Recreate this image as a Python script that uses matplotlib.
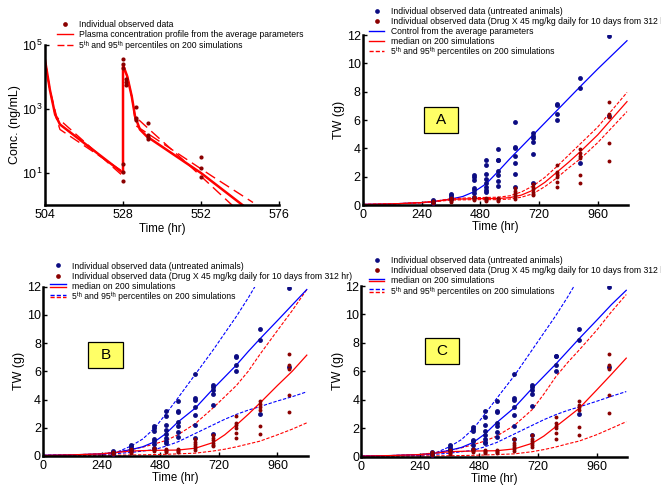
import numpy as np
import matplotlib
matplotlib.use('Agg')
import matplotlib.pyplot as plt
from matplotlib.lines import Line2D
from matplotlib.patches import Rectangle
from matplotlib.ticker import NullLocator
from matplotlib.legend_handler import HandlerBase

plt.rcParams['font.family'] = ['Liberation Sans', 'DejaVu Sans']
plt.rcParams['mathtext.default'] = 'regular'

# ---- PK panel (top left) ----
pk_avg_t = [504, 505.5, 507.1, 508.6, 528, 528, 529.3, 530.7, 531.7, 533.2, 535.3, 552, 566]
pk_avg_c = [34000, 4000, 680, 330, 10, 24000, 10500, 2450, 590, 230, 140, 10, 0.8]
pk_steep_t = [504, 505.5, 507.6, 528, 528, 529.3, 530.7, 531.7, 536.3, 548.6, 562]
pk_steep_c = [34000, 4000, 560, 8, 24000, 10500, 2450, 590, 220, 16.6, 0.9]
pk_flat_t = [504, 505.5, 507.1, 508.6, 528, 528, 529.3, 530.7, 532, 555.3, 568]
pk_flat_c = [34000, 4000, 680, 230, 11, 24000, 10500, 2450, 300, 8.1, 1.2]
pk_obs_t = [528, 528, 528, 528, 528, 528, 528.9, 528.9, 528.9, 531.9, 531.9, 531.9,
            535.8, 535.8, 535.8, 535.8, 552, 552, 552]
pk_obs_c = [37000, 26000, 19000, 18.6, 10.5, 5.6, 8500, 6800, 5500, 1120, 525, 470,
            355, 160, 135, 118, 31, 14, 7.3]

# ---- tumour weight data ----
tw_days = [288, 360, 456, 504, 552, 624, 696, 792, 888, 1008]
tw_ctrl = [[0.35, 0.28, 0.2, 0.15],
           [0.8, 0.68, 0.55, 0.45],
           [2.12, 1.97, 1.8, 1.2, 1.07, 0.82, 0.55],
           [3.2, 2.8, 2.2, 1.82, 1.55, 1.27, 1.05, 0.95],
           [3.93, 3.2, 3.15, 2.4, 2.15, 1.72, 1.36],
           [5.84, 4.1, 4.0, 3.48, 2.94, 2.17, 1.25],
           [5.06, 4.87, 4.7, 4.42, 3.6, 1.53],
           [7.1, 7.05, 6.45, 6.0],
           [9.0, 8.23, 2.97],
           [11.9, 6.3]]
tw_drug = [[0.3, 0.24, 0.18, 0.12],
           [0.5, 0.42, 0.35, 0.28, 0.22],
           [0.55, 0.47, 0.4, 0.33],
           [0.5, 0.42, 0.35, 0.27],
           [0.5, 0.42, 0.35, 0.27],
           [1.22, 0.98, 0.85, 0.7, 0.57, 0.42],
           [1.5, 1.25, 1.1, 0.95, 0.8, 0.68],
           [2.82, 2.35, 2.17, 2.0, 1.65, 1.25],
           [3.93, 3.65, 3.46, 3.29, 2.12, 1.53],
           [7.25, 6.45, 6.2, 4.35, 3.1]]

# panel A curves
a_ctrl_t = [0, 120, 240, 288, 360, 408, 456, 504, 552, 600, 648, 696, 744, 792, 840, 888, 960, 1080]
a_ctrl_v = [0.05, 0.08, 0.17, 0.24, 0.42, 0.6, 0.95, 1.5, 2.35, 3.25, 4.1, 4.95, 5.8, 6.65, 7.5, 8.35, 9.6, 11.6]
a_t = [0, 120, 240, 312, 360, 456, 552, 600, 648, 696, 744, 792, 840, 888, 960, 1080]
a_med = [0.04, 0.08, 0.17, 0.3, 0.4, 0.45, 0.46, 0.52, 0.7, 1.05, 1.6, 2.3, 3.0, 3.75, 4.95, 7.3]
a_p95 = [0.04, 0.08, 0.18, 0.32, 0.45, 0.52, 0.55, 0.65, 0.92, 1.35, 1.95, 2.7, 3.5, 4.3, 5.5, 7.95]
a_p5 = [0.04, 0.07, 0.15, 0.27, 0.35, 0.38, 0.38, 0.42, 0.55, 0.8, 1.3, 1.9, 2.6, 3.25, 4.4, 6.6]

# panels B and C curves (same time grid)
sim_t = [0, 120, 240, 300, 360, 408, 456, 504, 552, 624, 696, 744, 792, 840, 888, 960, 1020, 1080]
b_ctrl_med = [0.05, 0.08, 0.15, 0.25, 0.45, 0.65, 1.0, 1.6, 2.4, 3.4, 4.75, 5.6, 6.45, 7.4, 8.3, 9.6, 10.7, 11.8]
b_ctrl_p95 = [0.05, 0.08, 0.12, 0.25, 0.7, 1.2, 1.95, 3.0, 4.1, 5.8, 7.5, 8.7, 9.9, 11.2, 12.6, 14.5, 16.0, 17.5]
b_ctrl_p5 = [0.03, 0.05, 0.1, 0.17, 0.25, 0.35, 0.45, 0.7, 1.0, 1.6, 2.2, 2.6, 2.95, 3.25, 3.5, 3.9, 4.2, 4.55]
b_drug_med = [0.04, 0.08, 0.15, 0.25, 0.35, 0.38, 0.4, 0.41, 0.42, 0.55, 0.95, 1.5, 2.2, 2.95, 3.75, 5.0, 6.0, 7.15]
b_drug_p95 = [0.04, 0.08, 0.16, 0.28, 0.45, 0.62, 0.85, 1.1, 1.5, 2.3, 3.4, 4.2, 5.0, 6.0, 7.2, 8.9, 10.3, 11.8]
b_drug_p5 = [0.02, 0.04, 0.05, 0.06, 0.07, 0.08, 0.1, 0.12, 0.15, 0.2, 0.35, 0.48, 0.65, 0.85, 1.05, 1.5, 1.9, 2.35]

c_ctrl_med = [0.05, 0.08, 0.15, 0.25, 0.45, 0.65, 1.0, 1.6, 2.4, 3.45, 4.8, 5.65, 6.5, 7.4, 8.3, 9.6, 10.7, 11.7]
c_ctrl_p95 = [0.05, 0.08, 0.12, 0.25, 0.7, 1.2, 1.95, 3.0, 4.1, 5.7, 7.5, 8.7, 9.9, 11.2, 12.6, 14.5, 16.0, 17.5]
c_ctrl_p5 = [0.03, 0.05, 0.1, 0.17, 0.25, 0.35, 0.45, 0.7, 1.0, 1.6, 2.2, 2.6, 2.95, 3.25, 3.5, 3.9, 4.25, 4.58]
c_drug_med = [0.04, 0.08, 0.15, 0.25, 0.35, 0.38, 0.4, 0.41, 0.42, 0.55, 0.94, 1.45, 2.1, 2.75, 3.4, 4.7, 5.8, 6.93]
c_drug_p95 = [0.04, 0.08, 0.16, 0.28, 0.45, 0.62, 0.85, 1.1, 1.45, 2.2, 3.3, 4.4, 5.6, 6.6, 7.5, 8.9, 10.2, 11.4]
c_drug_p5 = [0.02, 0.04, 0.05, 0.06, 0.07, 0.08, 0.1, 0.12, 0.15, 0.2, 0.35, 0.5, 0.68, 0.9, 1.1, 1.55, 2.0, 2.46]

NAVY = '#0c0c82'
DRED = '#8b0000'
RED = '#ff0000'
BLUE = '#0000ff'
YEL = '#ffff66'


class PairHandle:
    def __init__(self, ls):
        self.ls = ls


class HandlerPair(HandlerBase):
    # two stacked lines: blue over red
    def create_artists(self, legend, orig_handle, xdescent, ydescent, width, height, fontsize, trans):
        y = (height - ydescent) / 2.
        l1 = Line2D([-xdescent, width - xdescent], [y + 0.9, y + 0.9], color=BLUE, ls=orig_handle.ls, lw=1)
        l2 = Line2D([-xdescent, width - xdescent], [y - 0.9, y - 0.9], color=RED, ls=orig_handle.ls, lw=1)
        l1.set_transform(trans)
        l2.set_transform(trans)
        return [l1, l2]


fig = plt.figure(figsize=(6.61, 4.87), dpi=100)


def style(ax):
    for s in ['top', 'right']:
        ax.spines[s].set_visible(False)
    for s in ['left', 'bottom']:
        ax.spines[s].set_linewidth(1.8)
    ax.tick_params(direction='in', length=3, width=1, labelsize=9)
    ax.tick_params(axis='x', pad=3)
    ax.tick_params(axis='y', pad=1.5)


def legend(ax, handles, labels, anchor):
    ax.legend(handles, labels, loc='upper left', bbox_to_anchor=anchor, bbox_transform=fig.transFigure,
              frameon=False, fontsize=6.25, handlelength=1.8, handletextpad=0.7, labelspacing=0.12,
              borderpad=0, borderaxespad=0, handler_map={PairHandle: HandlerPair()})


def label_box(ax, x0, y0, x1, y1, txt):
    ax.add_patch(Rectangle((x0, y0), x1 - x0, y1 - y0, transform=ax.transAxes,
                           facecolor=YEL, edgecolor='black', lw=0.9, zorder=5))
    ax.text((x0 + x1) / 2, (y0 + y1) / 2, txt, transform=ax.transAxes, ha='center', va='center',
            fontsize=11, zorder=6)


def tw_axes(ax):
    style(ax)
    ax.set_xlim(0, 1085)
    ax.set_ylim(0, 12)
    ax.set_xticks([0, 240, 480, 720, 960])
    ax.set_yticks([0, 2, 4, 6, 8, 10, 12])
    ax.set_xlabel('Time (hr)', fontsize=8.3, labelpad=0)
    ax.set_ylabel('TW (g)', fontsize=9, labelpad=1)


def tw_dots(ax):
    xc = np.repeat(tw_days, [len(v) for v in tw_ctrl])
    yc = np.concatenate(tw_ctrl)
    xd = np.repeat(tw_days, [len(v) for v in tw_drug])
    yd = np.concatenate(tw_drug)
    ax.plot(xc, yc, 'o', color=NAVY, ms=3.5, mew=0, zorder=4)
    ax.plot(xd, yd, 'o', color=DRED, ms=2.8, mew=0, zorder=4)


dot_c = Line2D([], [], marker='o', ls='none', color=NAVY, ms=3.4, mew=0)
dot_d = Line2D([], [], marker='o', ls='none', color=DRED, ms=3.4, mew=0)
lab_c = 'Individual observed data (untreated animals)'
lab_d = 'Individual observed data (Drug X 45 mg/kg daily for 10 days from 312 hr)'
lab_p = '5\u1d57\u02b0 and 95\u1d57\u02b0 percentiles on 200 simulations'
SD = (0, (3, 1.5))

# --- top left: PK ---
ax1 = fig.add_axes([0.0681, 0.579, 0.354, 0.3285])
style(ax1)
ax1.set_yscale('log')
ax1.plot(pk_steep_t, pk_steep_c, color=RED, lw=1.0, ls=(0, (8, 4)))
ax1.plot(pk_flat_t, pk_flat_c, color=RED, lw=1.0, ls=(0, (8, 4)))
ax1.plot(pk_avg_t, pk_avg_c, color=RED, lw=1.8)
ax1.plot(pk_obs_t, pk_obs_c, 'o', color=DRED, ms=3, mew=0, zorder=4)
ax1.set_xlim(504, 576)
ax1.set_ylim(1, 1e5)
ax1.set_xticks([504, 528, 552, 576])
ax1.set_yticks([10, 1e3, 1e5])
ax1.yaxis.set_minor_locator(NullLocator())
ax1.set_xlabel('Time (hr)', fontsize=8.3, labelpad=1)
ax1.set_ylabel('Conc. (ng/mL)', fontsize=9, labelpad=1)
legend(ax1, [Line2D([], [], marker='o', ls='none', color=DRED, ms=3.4, mew=0),
             Line2D([], [], color=RED, lw=1),
             Line2D([], [], color=RED, lw=1, ls=(0, (5, 2)))],
       ['Individual observed data', 'Plasma concentration profile from the average parameters', lab_p],
       (0.0862, 0.959))

# --- top right: A ---
ax2 = fig.add_axes([0.549, 0.579, 0.4014, 0.349])
tw_axes(ax2)
ax2.plot(a_ctrl_t, a_ctrl_v, color=BLUE, lw=0.9)
ax2.plot(a_t, a_p95, color=RED, lw=0.8, ls=SD)
ax2.plot(a_t, a_p5, color=RED, lw=0.8, ls=SD)
ax2.plot(a_t, a_med, color=RED, lw=0.9)
tw_dots(ax2)
label_box(ax2, 0.230, 0.424, 0.358, 0.576, 'A')
legend(ax2, [dot_c, dot_d, Line2D([], [], color=BLUE, lw=1), Line2D([], [], color=RED, lw=1),
             Line2D([], [], color=RED, lw=1, ls=SD)],
       [lab_c, lab_d, 'Control from the average parameters', 'median on 200 simulations', lab_p],
       (0.558, 0.986))

# --- bottom: B and C ---
panels = [([0.065, 0.0637, 0.401, 0.3476], b_ctrl_med, b_ctrl_p95, b_ctrl_p5, b_drug_med, b_drug_p95,
           b_drug_p5, (0.170, 0.520, 0.302, 0.673), 'B', (0.0756, 0.463)),
          ([0.5466, 0.0622, 0.4027, 0.3505], c_ctrl_med, c_ctrl_p95, c_ctrl_p5, c_drug_med, c_drug_p95,
           c_drug_p5, (0.239, 0.543, 0.367, 0.695), 'C', (0.558, 0.474))]
for pos, cm, cu, cl, dm, du, dl, box, let, anc in panels:
    ax = fig.add_axes(pos)
    tw_axes(ax)
    ax.plot(sim_t, cu, color=BLUE, lw=0.8, ls=SD)
    ax.plot(sim_t, cl, color=BLUE, lw=0.8, ls=SD)
    ax.plot(sim_t, du, color=RED, lw=0.8, ls=SD)
    ax.plot(sim_t, dl, color=RED, lw=0.8, ls=SD)
    ax.plot(sim_t, cm, color=BLUE, lw=0.9)
    ax.plot(sim_t, dm, color=RED, lw=0.9)
    tw_dots(ax)
    label_box(ax, box[0], box[1], box[2], box[3], let)
    legend(ax, [dot_c, dot_d, PairHandle('-'), PairHandle(SD)],
           [lab_c, lab_d, 'median on 200 simulations', lab_p], anc)

fig.savefig('out.png', dpi=100)
